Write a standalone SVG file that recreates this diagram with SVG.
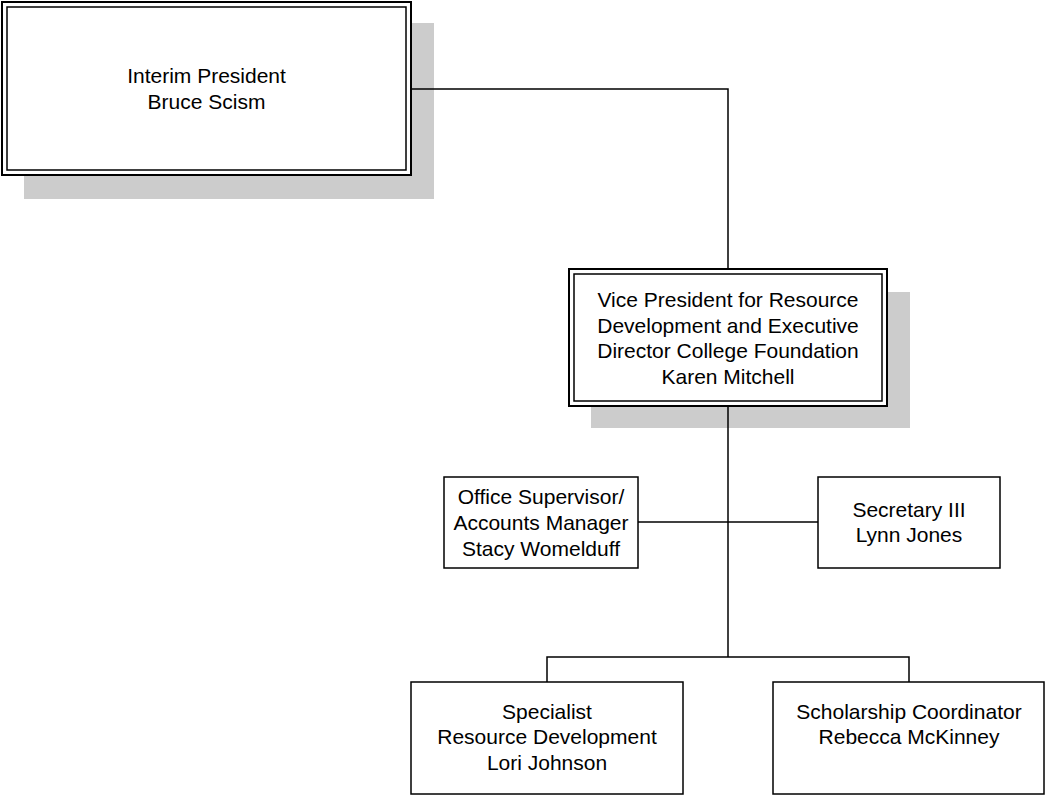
<svg xmlns="http://www.w3.org/2000/svg" width="1045" height="796" viewBox="0 0 1045 796">
<style>
.shadow{fill:#cccccc;stroke:none}
.outer{fill:#ffffff;stroke:#000;stroke-width:2}
.inner{fill:none;stroke:#000;stroke-width:1.5}
.box{fill:#ffffff;stroke:#000;stroke-width:1.5}
.conn{fill:none;stroke:#000;stroke-width:1.5}
text{font-family:"Liberation Sans",Arial,sans-serif;font-size:21px;fill:#000;text-anchor:middle}
</style>
<rect width="1045" height="796" fill="#ffffff"/>
<g id="president">
<rect class="shadow" x="24" y="23" width="410" height="176"/>
<rect class="outer" x="2" y="2" width="409" height="173"/>
<rect class="inner" x="7" y="7" width="399" height="163"/>
<text x="206.5" y="83">Interim President</text>
<text x="206.5" y="108.5">Bruce Scism</text>
</g>
<g id="vp">
<rect class="shadow" x="591" y="292" width="319" height="136"/>
<rect class="outer" x="569" y="269" width="318" height="137"/>
<rect class="inner" x="574" y="274" width="308" height="127"/>
<text x="728" y="306.5">Vice President for Resource</text>
<text x="728" y="332.5">Development and Executive</text>
<text x="728" y="358">Director College Foundation</text>
<text x="728" y="383.5">Karen Mitchell</text>
</g>
<g id="office">
<rect class="box" x="444" y="477" width="194" height="91"/>
<text x="541" y="503.5">Office Supervisor/</text>
<text x="541" y="530">Accounts Manager</text>
<text x="541" y="556">Stacy Womelduff</text>
</g>
<g id="secretary">
<rect class="box" x="818" y="477" width="182" height="91"/>
<text x="909" y="517">Secretary III</text>
<text x="909" y="542">Lynn Jones</text>
</g>
<g id="specialist">
<rect class="box" x="411" y="682" width="272" height="112"/>
<text x="547" y="719">Specialist</text>
<text x="547" y="744">Resource Development</text>
<text x="547" y="769.5">Lori Johnson</text>
</g>
<g id="scholarship">
<rect class="box" x="773" y="682" width="271" height="112"/>
<text x="909" y="719">Scholarship Coordinator</text>
<text x="909" y="744">Rebecca McKinney</text>
</g>
<g id="connectors">
<path class="conn" d="M411 89 H728 V269"/>
<path class="conn" d="M728 406 V657"/>
<path class="conn" d="M638 522 H818"/>
<path class="conn" d="M547 682 V657 H909 V682"/>
</g>
</svg>
